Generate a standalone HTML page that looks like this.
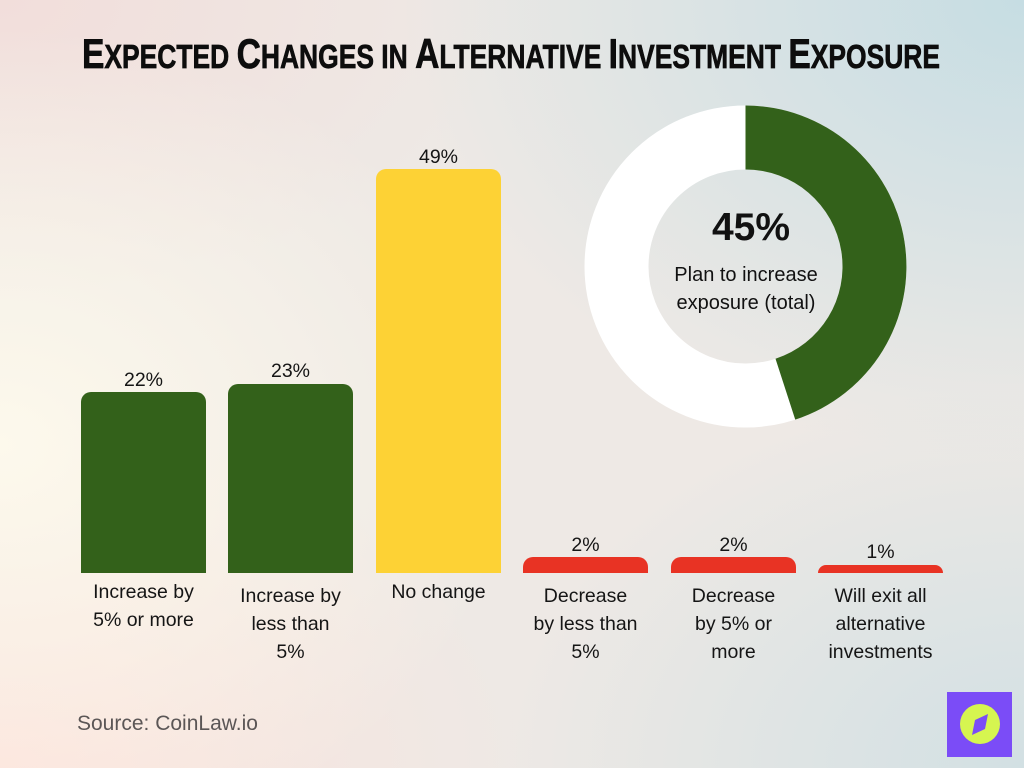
<!DOCTYPE html>
<html>
<head>
<meta charset="utf-8">
<style>
  html, body { margin:0; padding:0; }
  body {
    width:1024px; height:768px; overflow:hidden; position:relative;
    font-family:"Liberation Sans", sans-serif; color:#151515;
    background:
      radial-gradient(ellipse 520px 420px at 0% 58%, rgba(253,249,236,1) 0%, rgba(253,249,236,0) 100%),
      radial-gradient(ellipse 620px 460px at 100% 0%, rgba(198,221,227,1) 0%, rgba(198,221,227,0) 100%),
      radial-gradient(ellipse 520px 380px at 100% 100%, rgba(210,224,227,1) 0%, rgba(210,224,227,0) 100%),
      radial-gradient(ellipse 520px 360px at 0% 100%, rgba(252,226,219,1) 0%, rgba(252,226,219,0) 100%),
      radial-gradient(ellipse 500px 300px at 0% 0%, rgba(242,222,219,1) 0%, rgba(242,222,219,0) 100%),
      #eee9e5;
  }
  .bar { position:absolute; border-radius:10px 10px 0 0; }
  .g { background:#33611a; }
  .y { background:#fdd235; }
  .r { background:#e83324; }
  .val { position:absolute; width:140px; text-align:center; font-size:19.5px; line-height:26px; }
  .lab { position:absolute; width:150px; text-align:center; font-size:19.5px; line-height:28px; }
  .src { position:absolute; left:77px; top:710px; font-size:21px; line-height:28px; color:#5b5656; }
</style>
</head>
<body>
<svg width="1024" height="768" style="position:absolute;left:0;top:0" xmlns="http://www.w3.org/2000/svg">
  <text x="82" y="68" textLength="858" lengthAdjust="spacingAndGlyphs"
        style="font-family:'Liberation Sans', sans-serif; font-weight:bold; fill:#0d0d0d; stroke:#0d0d0d; stroke-width:0.7px"><tspan font-size="42">E</tspan><tspan font-size="33">XPECTED </tspan><tspan font-size="42">C</tspan><tspan font-size="33">HANGES IN </tspan><tspan font-size="42">A</tspan><tspan font-size="33">LTERNATIVE </tspan><tspan font-size="42">I</tspan><tspan font-size="33">NVESTMENT </tspan><tspan font-size="42">E</tspan><tspan font-size="33">XPOSURE</tspan></text>
  <!-- donut -->
  <circle cx="745.5" cy="266.5" r="129" fill="none" stroke="#ffffff" stroke-width="64"/>
  <path d="M745.5,105.5 A161,161 0 0 1 795.25,419.6 L775.5,358.75 A97,97 0 0 0 745.5,169.5 Z" fill="#33611a"/>
  <text x="751" y="240" text-anchor="middle" style="font-family:'Liberation Sans', sans-serif; font-weight:bold; font-size:39px; fill:#111">45%</text>
  <text x="746" y="281" text-anchor="middle" style="font-family:'Liberation Sans', sans-serif; font-size:20px; fill:#111">Plan to increase</text>
  <text x="746" y="309" text-anchor="middle" style="font-family:'Liberation Sans', sans-serif; font-size:20px; fill:#111">exposure (total)</text>
  <!-- logo -->
  <rect x="947" y="692" width="65" height="65" fill="#7b4cf7"/>
  <circle cx="980" cy="724" r="20" fill="#d6f550"/>
  <polygon points="988,714 985,729 972,735 975,720" fill="#7b4cf7"/>
</svg>

<div class="bar g" style="left:81px; top:392px; width:125px; height:181px;"></div>
<div class="bar g" style="left:228px; top:384px; width:125px; height:189px;"></div>
<div class="bar y" style="left:376px; top:169px; width:125px; height:404px;"></div>
<div class="bar r" style="left:523px; top:557px; width:125px; height:16px;"></div>
<div class="bar r" style="left:671px; top:557px; width:125px; height:16px;"></div>
<div class="bar r" style="left:818px; top:565px; width:125px; height:8px; border-radius:8px 8px 0 0;"></div>

<div class="val" style="left:73.5px; top:367px;">22%</div>
<div class="val" style="left:220.5px; top:358px;">23%</div>
<div class="val" style="left:368.5px; top:144px;">49%</div>
<div class="val" style="left:515.5px; top:532px;">2%</div>
<div class="val" style="left:663.5px; top:532px;">2%</div>
<div class="val" style="left:810.5px; top:539px;">1%</div>

<div class="lab" style="left:68.5px; top:578px;">Increase by<br>5% or more</div>
<div class="lab" style="left:215.5px; top:582px;">Increase by<br>less than<br>5%</div>
<div class="lab" style="left:363.5px; top:578px;">No change</div>
<div class="lab" style="left:510.5px; top:582px;">Decrease<br>by less than<br>5%</div>
<div class="lab" style="left:658.5px; top:582px;">Decrease<br>by 5% or<br>more</div>
<div class="lab" style="left:805.5px; top:582px;">Will exit all<br>alternative<br>investments</div>

<div class="src">Source: CoinLaw.io</div>
</body>
</html>
